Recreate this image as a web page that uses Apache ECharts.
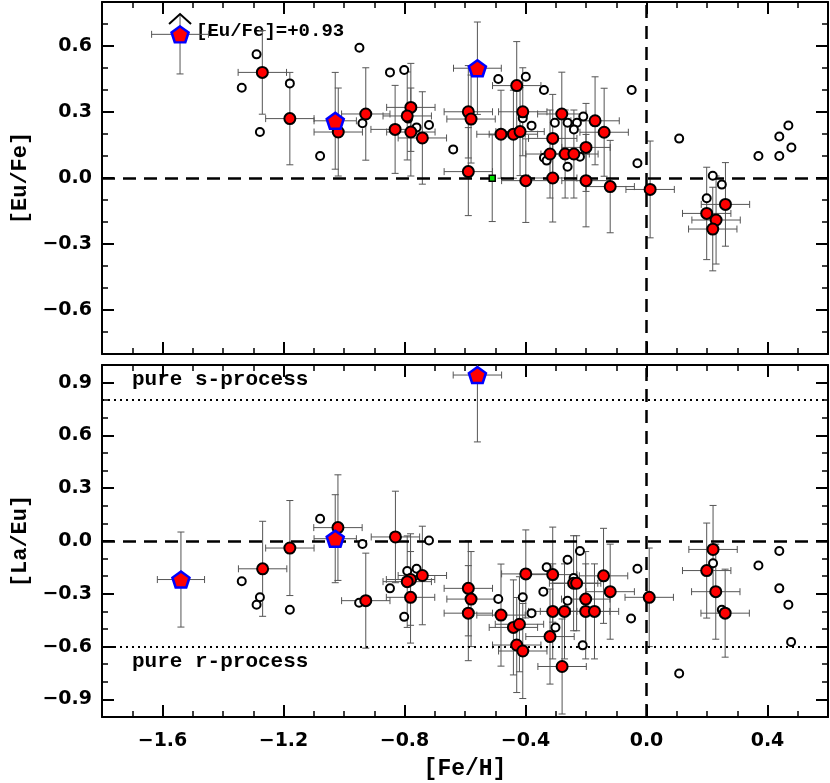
<!DOCTYPE html>
<html>
<head>
<meta charset="utf-8">
<script src="https://cdn.jsdelivr.net/npm/echarts@6/dist/echarts.min.js"></script>
<style>
html, body { margin: 0; padding: 0; background: #fff; }
#chart { width: 830px; height: 783px; }
</style>
</head>
<body>
<div id="chart"></div>
<script>
// axes
const feHRange = [-1.8, 0.6];
const feHTicks = [-1.6, -1.2, -0.8, -0.4, 0.0, 0.4];
const euFeRange = [-0.8, 0.8];
const euFeTicks = [-0.6, -0.3, 0.0, 0.3, 0.6];
const laEuRange = [-1.0, 1.0];
const laEuTicks = [-0.9, -0.6, -0.3, 0.0, 0.3, 0.6, 0.9];
const sProcessLevel = 0.8;
const rProcessLevel = -0.6;

// top panel: [Fe/H], [Eu/Fe], err x, err y
const euRed = [
    [-1.270, 0.480, 0.08, 0.19], [-1.179, 0.270, 0.08, 0.21], [-1.019, 0.209, 0.08, 0.20],
    [-0.928, 0.291, 0.08, 0.21], [-0.779, 0.321, 0.08, 0.20], [-0.791, 0.282, 0.08, 0.20],
    [-0.831, 0.221, 0.08, 0.20], [-0.779, 0.209, 0.08, 0.20], [-0.741, 0.182, 0.08, 0.21],
    [-0.589, 0.301, 0.08, 0.21], [-0.580, 0.268, 0.08, 0.20], [-0.589, 0.029, 0.08, 0.20],
    [-0.429, 0.420, 0.08, 0.20], [-0.409, 0.301, 0.08, 0.20], [-0.481, 0.199, 0.08, 0.20],
    [-0.440, 0.199, 0.08, 0.20], [-0.418, 0.211, 0.08, 0.20], [-0.399, -0.012, 0.08, 0.19],
    [-0.310, 0.180, 0.08, 0.20], [-0.319, 0.109, 0.08, 0.20], [-0.310, 0.000, 0.08, 0.20],
    [-0.280, 0.291, 0.08, 0.19], [-0.170, 0.260, 0.08, 0.20], [-0.140, 0.208, 0.08, 0.20],
    [-0.200, 0.139, 0.08, 0.20], [-0.269, 0.109, 0.08, 0.20], [-0.240, 0.109, 0.08, 0.20],
    [-0.200, -0.012, 0.08, 0.21], [-0.120, -0.039, 0.08, 0.21], [0.012, -0.052, 0.08, 0.22],
    [0.261, -0.120, 0.08, 0.19], [0.199, -0.161, 0.08, 0.21], [0.230, -0.191, 0.08, 0.20],
    [0.219, -0.232, 0.08, 0.19]
];
// [Fe/H], [Eu/Fe], err x, err low, err high, lower limit flag
const euPenta = [
    [-1.542, 0.653, 0.094, 0.18, 0.092, 1],
    [-1.029, 0.260, 0.07, 0.22, 0.22, 0],
    [-0.559, 0.499, 0.079, 0.21, 0.21, 0]
];
const euGreen = [[-0.510, -0.001, 0, 0.197]];
const euOpen = [
    [-1.289, 0.562], [-1.338, 0.410], [-1.179, 0.430], [-1.278, 0.209], [-1.079, 0.100],
    [-0.939, 0.249], [-0.949, 0.592], [-0.848, 0.480], [-0.801, 0.491], [-0.788, 0.270],
    [-0.760, 0.230], [-0.719, 0.241], [-0.639, 0.130], [-0.490, 0.450], [-0.399, 0.460],
    [-0.339, 0.400], [-0.409, 0.285], [-0.409, 0.272], [-0.380, 0.238], [-0.339, 0.092],
    [-0.330, 0.079], [-0.303, 0.251], [-0.261, 0.251], [-0.230, 0.251], [-0.209, 0.279],
    [-0.240, 0.221], [-0.220, 0.097], [-0.261, 0.051], [-0.049, 0.400], [-0.030, 0.067],
    [0.108, 0.179], [0.370, 0.100], [0.439, 0.100], [0.439, 0.189], [0.469, 0.239],
    [0.479, 0.139], [0.219, 0.010], [0.249, -0.030], [0.199, -0.092]
];
const limitText = '[Eu/Fe]=+0.93';

// bottom panel: [Fe/H], [La/Eu], err x, err y
const laRed = [
    [-1.269, -0.158, 0.08, 0.27], [-1.179, -0.040, 0.08, 0.27], [-1.020, 0.076, 0.08, 0.30],
    [-0.928, -0.339, 0.08, 0.27], [-0.830, 0.023, 0.08, 0.26], [-0.780, -0.219, 0.08, 0.26],
    [-0.791, -0.231, 0.08, 0.26], [-0.780, -0.320, 0.08, 0.26], [-0.741, -0.196, 0.08, 0.28],
    [-0.589, -0.269, 0.08, 0.27], [-0.580, -0.330, 0.08, 0.27], [-0.589, -0.410, 0.08, 0.27],
    [-0.481, -0.421, 0.08, 0.29], [-0.399, -0.187, 0.08, 0.25], [-0.440, -0.491, 0.08, 0.27],
    [-0.420, -0.473, 0.08, 0.27], [-0.429, -0.591, 0.08, 0.27], [-0.409, -0.625, 0.08, 0.27],
    [-0.310, -0.191, 0.08, 0.27], [-0.310, -0.400, 0.08, 0.27], [-0.319, -0.543, 0.08, 0.27],
    [-0.279, -0.713, 0.08, 0.27], [-0.241, -0.240, 0.08, 0.27], [-0.231, -0.240, 0.08, 0.27],
    [-0.271, -0.400, 0.08, 0.27], [-0.201, -0.330, 0.08, 0.27], [-0.201, -0.400, 0.08, 0.27],
    [-0.172, -0.400, 0.08, 0.27], [-0.142, -0.198, 0.08, 0.27], [-0.120, -0.288, 0.08, 0.27],
    [0.009, -0.320, 0.08, 0.28], [0.220, -0.048, 0.08, 0.25], [0.199, -0.168, 0.08, 0.27],
    [0.229, -0.288, 0.08, 0.27], [0.260, -0.410, 0.08, 0.25]
];
const laPenta = [
    [-1.539, -0.219, 0.078, 0.27, 0.27, 0],
    [-1.029, 0.013, 0.07, 0.25, 0.25, 0],
    [-0.559, 0.943, 0.08, 0.38, 0.38, 0]
];
const laOpen = [
    [-1.338, -0.229], [-1.278, -0.320], [-1.289, -0.362], [-1.179, -0.391], [-1.079, 0.126],
    [-0.939, -0.017], [-0.950, -0.351], [-0.848, -0.269], [-0.801, -0.431], [-0.791, -0.170],
    [-0.760, -0.158], [-0.719, 0.003], [-0.490, -0.330], [-0.409, -0.320], [-0.380, -0.410],
    [-0.330, -0.149], [-0.341, -0.288], [-0.301, -0.491], [-0.261, -0.107], [-0.220, -0.057],
    [-0.241, -0.210], [-0.261, -0.339], [-0.211, -0.593], [-0.030, -0.158], [-0.051, -0.440],
    [0.108, -0.753], [0.220, -0.126], [0.249, -0.391], [0.370, -0.139], [0.439, -0.057],
    [0.439, -0.269], [0.469, -0.362], [0.478, -0.574]
];

const labelFont = { fontFamily: 'DejaVu Sans', fontWeight: 'bold', fontSize: 19, color: '#000' };
const monoFont = { fontFamily: 'Liberation Mono', fontWeight: 'bold', color: '#000' };
const fmt = (v) => v.toFixed(1).replace('-', '\u2212');

const majorAxis = (gridIndex, position, range, ticks, showLabel) => ({
    type: 'value', gridIndex, position, min: range[0], max: range[1],
    axisLine: { show: true, onZero: false, lineStyle: { color: '#000', width: 2 } },
    axisTick: { show: true, inside: true, length: 12, customValues: ticks, lineStyle: { color: '#000', width: 2 } },
    axisLabel: { show: showLabel, customValues: ticks, formatter: fmt, margin: 10, ...labelFont },
    splitLine: { show: false }
});
const minorAxis = (gridIndex, position, range) => ({
    type: 'value', gridIndex, position, min: range[0], max: range[1], interval: 0.1,
    axisLine: { show: false, onZero: false },
    axisTick: { show: true, inside: true, length: 6, lineStyle: { color: '#000', width: 1.5 } },
    axisLabel: { show: false },
    splitLine: { show: false }
});

const xAxes = [
    majorAxis(0, 'bottom', feHRange, feHTicks, false), minorAxis(0, 'bottom', feHRange),
    majorAxis(0, 'top', feHRange, feHTicks, false), minorAxis(0, 'top', feHRange),
    majorAxis(1, 'bottom', feHRange, feHTicks, true), minorAxis(1, 'bottom', feHRange),
    majorAxis(1, 'top', feHRange, feHTicks, false), minorAxis(1, 'top', feHRange)
];
xAxes[4].axisLabel.margin = 15;
xAxes[4].name = '[Fe/H]';
xAxes[4].nameLocation = 'middle';
xAxes[4].nameGap = 41;
xAxes[4].nameTextStyle = { ...monoFont, fontSize: 23 };

const yAxes = [
    majorAxis(0, 'left', euFeRange, euFeTicks, true), minorAxis(0, 'left', euFeRange),
    majorAxis(0, 'right', euFeRange, euFeTicks, false), minorAxis(0, 'right', euFeRange),
    majorAxis(1, 'left', laEuRange, laEuTicks, true), minorAxis(1, 'left', laEuRange),
    majorAxis(1, 'right', laEuRange, laEuTicks, false), minorAxis(1, 'right', laEuRange)
];
yAxes[0].name = '[Eu/Fe]';
yAxes[4].name = '[La/Eu]';
[0, 4].forEach((i) => {
    yAxes[i].nameLocation = 'middle';
    yAxes[i].nameRotate = 90;
    yAxes[i].nameGap = 60;
    yAxes[i].nameTextStyle = { ...monoFont, fontSize: 22 };
});

// error bars drawn with caps; flag 1 = lower limit arrow on top
const toErr = (rows) => rows.map((r) => [r[0], r[1], r[2], r[3], r.length > 4 ? r[4] : r[3], r[5] || 0]);
const renderErr = (params, api) => {
    const x = api.value(0), y = api.value(1);
    const xe = api.value(2), yl = api.value(3), yh = api.value(4), lim = api.value(5);
    const c = api.coord([x, y]);
    const cap = 3.5;
    const style = { stroke: '#555', lineWidth: 1, fill: null };
    const kids = [];
    if (yl > 0 || yh > 0) {
        const lo = api.coord([x, y - yl])[1];
        const hi = api.coord([x, y + yh])[1];
        kids.push({ type: 'line', shape: { x1: c[0], y1: hi, x2: c[0], y2: lo }, style });
        kids.push({ type: 'line', shape: { x1: c[0] - cap, y1: lo, x2: c[0] + cap, y2: lo }, style });
        if (lim) {
            kids.push({ type: 'polyline', shape: { points: [[c[0] - 11, hi + 10], [c[0], hi], [c[0] + 11, hi + 10]] },
                style: { stroke: '#000', lineWidth: 2, fill: null } });
        } else {
            kids.push({ type: 'line', shape: { x1: c[0] - cap, y1: hi, x2: c[0] + cap, y2: hi }, style });
        }
    }
    if (xe > 0) {
        const l = api.coord([x - xe, y])[0];
        const r = api.coord([x + xe, y])[0];
        kids.push({ type: 'line', shape: { x1: l, y1: c[1], x2: r, y2: c[1] }, style });
        kids.push({ type: 'line', shape: { x1: l, y1: c[1] - cap, x2: l, y2: c[1] + cap }, style });
        kids.push({ type: 'line', shape: { x1: r, y1: c[1] - cap, x2: r, y2: c[1] + cap }, style });
    }
    return { type: 'group', children: kids };
};

const pentagon = 'path://M0,-10 L9.51,-3.09 L5.88,8.09 L-5.88,8.09 L-9.51,-3.09 Z';
const dashed = { color: '#000', width: 2.5, type: [13, 8] };
const dotted = { color: '#000', width: 2, type: [2, 4] };

const panelSeries = (g, red, penta, open, green, refLines) => {
    const axes = { xAxisIndex: g * 4, yAxisIndex: g * 4 };
    const list = [
        { type: 'custom', ...axes, clip: true, z: 1, silent: true, renderItem: renderErr,
          data: toErr(red.concat(penta, green)) },
        { type: 'scatter', ...axes, z: 3, silent: true, symbol: 'circle', symbolSize: 8,
          itemStyle: { color: '#fff', borderColor: '#000', borderWidth: 2, opacity: 1 },
          data: open,
          markLine: { silent: true, symbol: 'none', z: 2, label: { show: false }, data: refLines } },
        { type: 'scatter', ...axes, z: 4, silent: true, symbol: 'circle', symbolSize: 11,
          itemStyle: { color: '#ff0000', borderColor: '#000', borderWidth: 2, opacity: 1 },
          data: red.map((r) => [r[0], r[1]]) },
        { type: 'scatter', ...axes, z: 5, silent: true, symbol: pentagon, symbolSize: [17, 16],
          itemStyle: { color: '#ff0000', borderColor: '#0000ff', borderWidth: 2.5, opacity: 1 },
          data: penta.map((r) => [r[0], r[1]]) }
    ];
    if (green.length) {
        list.push({ type: 'scatter', ...axes, z: 5, silent: true, symbol: 'rect', symbolSize: 6,
            itemStyle: { color: '#00e000', borderColor: '#000', borderWidth: 1.5, opacity: 1 },
            data: green.map((r) => [r[0], r[1]]) });
    }
    return list;
};

const chart = echarts.init(document.getElementById('chart'));
chart.setOption({
    backgroundColor: '#fff',
    animation: false,
    grid: [
        { left: 102, right: 2, top: 2, height: 352 },
        { left: 102, right: 2, top: 365, height: 352 }
    ],
    xAxis: xAxes,
    yAxis: yAxes,
    graphic: [
        { type: 'text', left: 196, top: 22, style: { text: limitText, ...monoFont, fontSize: 19, fill: '#000' } },
        { type: 'text', left: 132, top: 369, style: { text: 'pure s-process', ...monoFont, fontSize: 21, fill: '#000' } },
        { type: 'text', left: 132, top: 651, style: { text: 'pure r-process', ...monoFont, fontSize: 21, fill: '#000' } }
    ],
    series: [
        ...panelSeries(0, euRed, euPenta, euOpen, euGreen, [
            { xAxis: 0, lineStyle: dashed }, { yAxis: 0, lineStyle: dashed }
        ]),
        ...panelSeries(1, laRed, laPenta, laOpen, [], [
            { xAxis: 0, lineStyle: dashed }, { yAxis: 0, lineStyle: dashed },
            { yAxis: sProcessLevel, lineStyle: dotted }, { yAxis: rProcessLevel, lineStyle: dotted }
        ])
    ]
});
</script>
</body>
</html>
